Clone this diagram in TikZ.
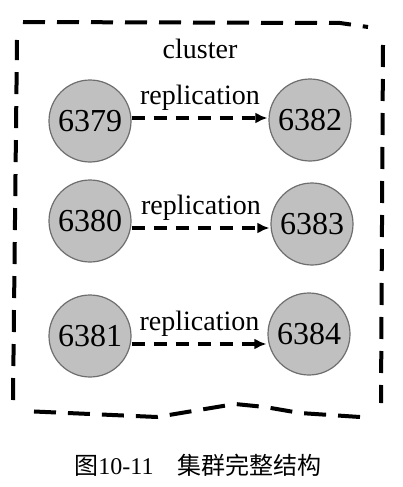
\documentclass[tikz,border=0pt]{standalone}
\usepackage{fontspec}
\setmainfont{Liberation Serif}
\newfontfamily\cjk{Noto Sans CJK SC}
\usetikzlibrary{arrows.meta}
\definecolor{nodefill}{RGB}{192,192,192}
\definecolor{nodeline}{RGB}{110,110,110}
\tikzset{
  redis/.style={circle,draw=nodeline,fill=nodefill,line width=1.2pt,minimum size=82pt,inner sep=0pt,font=\fontsize{32}{34}\selectfont},
  repl/.style={draw=black,line width=3.6pt,dash pattern=on 13pt off 9pt,-{Latex[length=12pt,width=11pt]},shorten >=1pt},
  lbl/.style={inner sep=0pt,font=\fontsize{28}{30}\selectfont},
  border/.style={draw=black,line width=4pt,dash pattern=on 22pt off 12pt,line join=round},
}
\begin{document}
\begin{tikzpicture}[x=1pt,y=-1pt]
\useasboundingbox (0,0) rectangle (403,487);
% border
\draw[border] (23,22) -- (340,23) -- (368,27)
  (383,45) -- (381,403)
  (360,417) -- (300,413) -- (265,407) -- (235,404) -- (157,417) -- (23,411)
  (13,400) -- (17,40);
\node[lbl] (cl) at (200,49) {cluster};
\node[redis] (a1) at (90,121) {6379};
\node[redis] (b1) at (310,120) {6382};
\node[redis] (a2) at (90,221) {6380};
\node[redis] (b2) at (312,224) {6383};
\node[redis] (a3) at (90,336) {6381};
\node[redis] (b3) at (309,334) {6384};
\draw[repl] (a1.east |- 0,118) -- node[lbl,above=6pt] (r1) {replication} (b1.west |- 0,118);
\draw[repl] (a2.east |- 0,228) -- node[lbl,above=6pt] (r2) {replication} (b2.west |- 0,228);
\draw[repl] (a3.east |- 0,344) -- node[lbl,above=6pt] (r3) {replication} (b3.west |- 0,344);
\node[inner sep=0pt,font=\fontsize{24}{26}\selectfont] (cap) at (198,465) {{\cjk 图}10-11\hspace{24pt}{\cjk 集群完整结构}};
\end{tikzpicture}
\end{document}
